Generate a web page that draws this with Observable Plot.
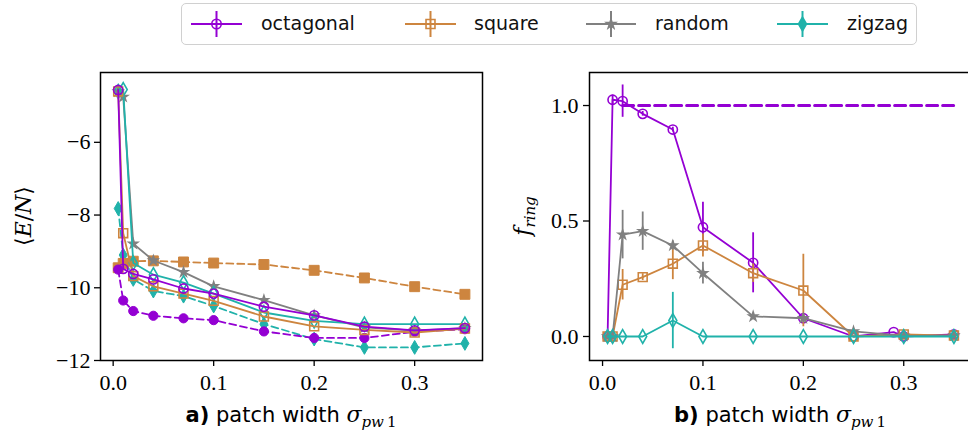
<!DOCTYPE html>
<html><head><meta charset="utf-8">
<script src="https://cdn.jsdelivr.net/npm/d3@7"></script>
<script src="https://cdn.jsdelivr.net/npm/@observablehq/plot@0.6"></script>
<style>
html,body{margin:0;padding:0;background:#fff;overflow:hidden}
#root{position:relative;width:968px;height:432px;overflow:hidden;background:#fff}
.panel{position:absolute;top:50px}
.xlab{position:absolute;font-family:"DejaVu Sans";font-size:21px;white-space:nowrap;transform:translateX(-50%);line-height:1}
.ylab{position:absolute;white-space:nowrap;transform:translate(-50%,-50%) rotate(-90deg);line-height:1;font-family:"DejaVu Serif";font-size:22px}
.m{font-family:"DejaVu Serif";font-style:italic;font-size:22px}
.sub{font-family:"DejaVu Serif";font-size:15px;position:relative;top:5px}
#legend{position:absolute;left:181px;top:3px;width:734px;height:40px;border:1.5px solid #d0d0d0;border-radius:5px;background:#fff}
#legend span{position:absolute;top:8px;font-family:"DejaVu Sans";font-size:19px;line-height:1.2;color:#111}
</style></head>
<body><div id="root"></div>
<script>
// ---------- data ----------
const seriesNames = ["octagonal", "square", "random", "zigzag"];
const seriesColors = ["#9400D3", "#CD853F", "#808080", "#20B2AA"];

const xVals = [0.005, 0.01, 0.02, 0.04, 0.07, 0.1, 0.15, 0.2, 0.25, 0.3, 0.35];

// panel a) <E/N>, solid (open markers)
const octE  = [-4.56, -9.48, -9.62, -9.77, -10.02, -10.16, -10.52, -10.76, -11.07, -11.17, -11.11];
const sqE   = [-4.60, -8.50, -9.68, -9.96, -10.16, -10.36, -10.79, -11.06, -11.16, -11.23, -11.12];
const rndE  = [-4.60, -4.75, -8.79, -9.25, -9.57, -9.96, -10.34, -10.76, -11.09, -11.18, -11.11];
const zigE  = [-4.60, -4.55, -9.32, -9.64, -9.86, -10.16, -10.68, -10.91, -11.00, -11.00, -11.00];
// panel a) dashed (filled markers)
const octE2 = [-9.50, -10.35, -10.64, -10.77, -10.84, -10.89, -11.20, -11.38, -11.38, -11.21, -11.14];
const sqE2  = [-9.45, -9.33, -9.27, -9.26, -9.29, -9.32, -9.36, -9.52, -9.73, -9.97, -10.18];
const zigE2 = [-7.82, -9.10, -9.77, -10.09, -10.23, -10.50, -11.00, -11.41, -11.64, -11.64, -11.53];

// panel b) f_ring with error bars
const octX   = [0.005, 0.01, 0.02, 0.04, 0.07, 0.1, 0.15, 0.2, 0.25, 0.29, 0.3, 0.35];
const octF   = [0.0, 1.025, 1.019, 0.964, 0.896, 0.473, 0.319, 0.079, 0.0, 0.019, 0.0, 0.009];
const octErr = [0, 0.02, 0.07, 0.01, 0.01, 0.108, 0.13, 0.01, 0, 0, 0, 0];
const sqF    = [0.0, 0.0, 0.224, 0.257, 0.315, 0.394, 0.274, 0.199, 0.0, 0.009, 0.004];
const sqErr  = [0, 0, 0.066, 0.015, 0.069, 0.05, 0.04, 0.157, 0, 0, 0];
const rndF   = [0.0, 0.0, 0.441, 0.456, 0.394, 0.274, 0.087, 0.079, 0.022, 0.003, 0.004];
const rndErr = [0, 0, 0.105, 0.083, 0.02, 0.047, 0.005, 0.02, 0.01, 0, 0];
const zigF   = [0, 0, 0, 0, 0.069, 0, 0, 0, 0, 0, 0];
const zigErr = [0, 0, 0, 0, 0.122, 0, 0, 0, 0, 0, 0];
// octagonal reference (dashed) in panel b)
const octRefX = [0.02, 0.35];
const octRefY = [1.0, 1.0];

const ticksXLabels = [0, 0.1, 0.2, 0.3];
const ticksEY = [-12, -10, -8, -6];
const ticksFY = [0, 0.5, 1.0];

// ---------- helpers ----------
const rows = (xs, ys, es) => xs.map((x, i) => ({x, y: ys[i], e: es ? es[i] : 0}));
const [PUR, ORA, GRY, TEA] = seriesColors;
const SW = 1.8;
const DASH = "7,4";
const FONT = "Liberation Serif";
const FS = 22;
const axisStyle = {fontFamily: FONT, fontSize: FS + "px", background: "white", overflow: "visible", maxWidth: "none"};
const STAR_R = 2.7;

function solid(data, color, symbol, r, filled) {
  return [
    Plot.line(data, {x: "x", y: "y", stroke: color, strokeWidth: SW}),
    Plot.dot(data, {x: "x", y: "y", stroke: color, fill: filled ? color : "none", symbol, r, strokeWidth: 1.6})
  ];
}
function dashed(data, color, symbol, r) {
  return [
    Plot.line(data, {x: "x", y: "y", stroke: color, strokeWidth: SW, strokeDasharray: DASH}),
    Plot.dot(data, {x: "x", y: "y", fill: color, stroke: color, symbol, r, strokeWidth: 1})
  ];
}
function errs(data, color) {
  return Plot.ruleX(data.filter(d => d.e > 0), {x: "x", y1: d => d.y - d.e, y2: d => d.y + d.e, stroke: color, strokeWidth: 1.8});
}
function styleTicks(svg) {
  d3.select(svg).selectAll("text").style("font-family", FONT).style("font-size", FS + "px");
  return svg;
}

const root = document.getElementById("root");

// ---------- panel a ----------
const plotA = styleTicks(Plot.plot({
  width: 490, height: 375,
  marginLeft: 100, marginRight: 8, marginTop: 22, marginBottom: 65,
  x: {domain: [-0.0126, 0.3675]},
  y: {domain: [-12, -4.08]},
  style: axisStyle,
  marks: [
    Plot.axisX({ticks: ticksXLabels, tickFormat: d3.format(".1f"), tickSize: 6, tickPadding: 8, label: null, strokeWidth: 1.3}),
    Plot.axisY({ticks: ticksEY, tickSize: 6, tickPadding: 4, label: null, strokeWidth: 1.3}),
    ...dashed(rows(xVals, zigE2), TEA, "diamond", 4.2),
    ...dashed(rows(xVals, sqE2), ORA, "square", 5.6),
    ...dashed(rows(xVals, octE2), PUR, "circle", 4.6),
    ...solid(rows(xVals, rndE), GRY, "star", STAR_R, true),
    ...solid(rows(xVals, zigE), TEA, "diamond", 4.2, false),
    ...solid(rows(xVals, sqE), ORA, "square", 5.0, false),
    ...solid(rows(xVals, octE), PUR, "circle", 4.6, false),
    Plot.frame({stroke: "black", strokeWidth: 1.5})
  ]
}));
const pa = document.createElement("div");
pa.className = "panel"; pa.style.left = "0px"; pa.style.width = "490px";
pa.appendChild(plotA); root.appendChild(pa);

// ---------- panel b ----------
const octRows = rows(octX, octF, octErr), sqRows = rows(xVals, sqF, sqErr), rndRows = rows(xVals, rndF, rndErr), zigRows = rows(xVals, zigF, zigErr);
const plotB = styleTicks(Plot.plot({
  width: 475, height: 375,
  marginLeft: 89, marginRight: 4, marginTop: 22, marginBottom: 65,
  x: {domain: [-0.013, 0.3675]},
  y: {domain: [-0.104, 1.143]},
  style: axisStyle,
  marks: [
    Plot.axisX({ticks: ticksXLabels, tickFormat: d3.format(".1f"), tickSize: 6, tickPadding: 8, label: null, strokeWidth: 1.3}),
    Plot.axisY({ticks: ticksFY, tickFormat: d3.format(".1f"), tickSize: 6, tickPadding: 5, label: null, strokeWidth: 1.3}),
    Plot.line(rows(octRefX, octRefY), {x: "x", y: "y", stroke: PUR, strokeWidth: 3, strokeDasharray: "11,5"}),
    errs(octRows, PUR), ...solid(octRows, PUR, "circle", 4.6, false),
    errs(sqRows, ORA), ...solid(sqRows, ORA, "square", 5.0, false),
    errs(rndRows, GRY), ...solid(rndRows, GRY, "star", STAR_R, true),
    errs(zigRows, TEA), ...solid(zigRows, TEA, "diamond", 4.2, false),
    Plot.frame({stroke: "black", strokeWidth: 1.5})
  ]
}));
const pb = document.createElement("div");
pb.className = "panel"; pb.style.left = "500px"; pb.style.width = "475px";
pb.appendChild(plotB); root.appendChild(pb);

// ---------- axis labels ----------
function addHTML(cls, left, top, html) {
  const d = document.createElement("div");
  d.className = cls; d.style.left = left + "px"; d.style.top = top + "px"; d.innerHTML = html;
  root.appendChild(d);
}
const xl = '<b>{p})</b> patch width <span class="m">σ</span><span class="sub"><i>pw</i>&#8201;1</span>';
addHTML("xlab", 291, 404, xl.replace("{p}", "a"));
addHTML("xlab", 780, 404, xl.replace("{p}", "b"));
addHTML("ylab", 24, 216, '⟨<i>E</i>/<i>N</i>⟩');
addHTML("ylab", 523, 216, '<i>f</i><span class="sub" style="font-size:15px;top:5px"><i>ring</i></span>');

// ---------- legend ----------
const leg = document.createElement("div"); leg.id = "legend"; root.appendChild(leg);
const legItems = [
  {x1: 9, x2: 60, tx: 79, sym: d3.symbolCircle, size: 70, fill: false},
  {x1: 223, x2: 274, tx: 292, sym: d3.symbolSquare, size: 80, fill: false},
  {x1: 404, x2: 454, tx: 473, sym: d3.symbolStar, size: 25, fill: true},
  {x1: 595, x2: 646, tx: 665, sym: d3.symbolDiamond, size: 55, fill: true}
];
const lsvg = d3.select(leg).append("svg").attr("width", 734).attr("height", 40).style("position", "absolute").style("left", 0).style("top", 0);
legItems.forEach((it, i) => {
  const c = seriesColors[i], cx = (it.x1 + it.x2) / 2, cy = 20;
  lsvg.append("line").attr("x1", it.x1).attr("x2", it.x2).attr("y1", cy).attr("y2", cy).attr("stroke", c).attr("stroke-width", 2);
  lsvg.append("line").attr("x1", cx).attr("x2", cx).attr("y1", cy - 13).attr("y2", cy + 13).attr("stroke", c).attr("stroke-width", 2);
  lsvg.append("path").attr("d", d3.symbol(it.sym, it.size)()).attr("transform", `translate(${cx},${cy})`)
    .attr("fill", it.fill ? c : "none").attr("stroke", c).attr("stroke-width", 1.6);
  const s = document.createElement("span"); s.style.left = it.tx + "px"; s.textContent = seriesNames[i]; leg.appendChild(s);
});
</script></body></html>
